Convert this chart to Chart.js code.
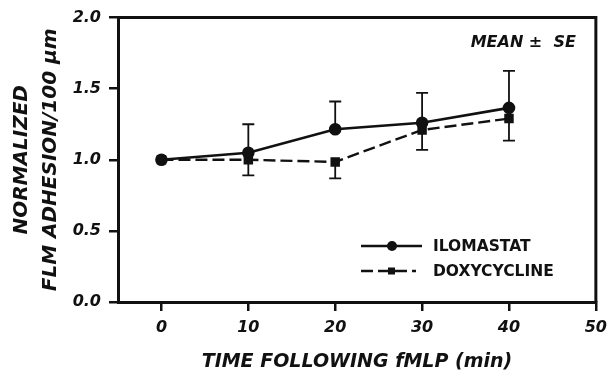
<!DOCTYPE html>
<html>
<head>
<meta charset="utf-8">
<script src="https://cdn.jsdelivr.net/npm/chart.js@4/dist/chart.umd.min.js"></script>
<style>
  html, body { margin: 0; padding: 0; background: #fff; }
  #wrap { width: 614px; height: 375px; position: relative; }
</style>
</head>
<body>
<div id="wrap"><canvas id="chart" width="614" height="375"></canvas></div>
<script>
// minutes after fMLP
const times = [0, 10, 20, 30, 40];
const xTicks = [0, 10, 20, 30, 40, 50];
const seriesNames = ['ILOMASTAT', 'DOXYCYCLINE'];

// normalized adhesion, mean and SE (ilomastat bar drawn up, doxycycline bar drawn down)
const ilomastatMean = [1.0, 1.05, 1.215, 1.26, 1.365];
const ilomastatSE = [0, 0.20, 0.195, 0.21, 0.26];
const doxyMean = [1.0, 1.0, 0.985, 1.21, 1.29];
const doxySE = [0, 0.11, 0.115, 0.14, 0.155];

const note = 'MEAN ±  SE';
const FONT = "'DejaVu Sans', 'Liberation Sans', Arial, sans-serif";

const toPoints = (ys) => ys.map((y, i) => ({ x: times[i], y }));

// error bars: ilomastat upper half, doxycycline lower half
const errorBars = {
  id: 'errorBars',
  beforeDatasetsDraw(chart) {
    const { ctx, scales: { x, y } } = chart;
    const sets = [
      { mean: ilomastatMean, se: ilomastatSE, dir: 1 },
      { mean: doxyMean, se: doxySE, dir: -1 },
    ];
    ctx.save();
    ctx.strokeStyle = '#111';
    ctx.lineWidth = 1.8;
    sets.forEach((s) => {
      s.mean.forEach((m, i) => {
        if (!s.se[i]) return;
        const px = x.getPixelForValue(times[i]);
        const p0 = y.getPixelForValue(m);
        const p1 = y.getPixelForValue(m + s.dir * s.se[i]);
        ctx.beginPath();
        ctx.moveTo(px, p0);
        ctx.lineTo(px, p1);
        ctx.moveTo(px - 6, p1);
        ctx.lineTo(px + 6, p1);
        ctx.stroke();
      });
    });
    ctx.restore();
  },
};

// closes the box on top and right, adds the legend and the note
const frameAndLegend = {
  id: 'frameAndLegend',
  afterDraw(chart) {
    const { ctx, chartArea: a } = chart;
    ctx.save();
    ctx.strokeStyle = '#111';
    ctx.lineWidth = 3;
    ctx.beginPath();
    ctx.moveTo(a.left, a.top);
    ctx.lineTo(a.right, a.top);
    ctx.lineTo(a.right, a.bottom);
    ctx.stroke();

    ctx.fillStyle = '#111';
    ctx.font = `italic bold 16px ${FONT}`;
    ctx.textAlign = 'right';
    ctx.textBaseline = 'middle';
    ctx.fillText(note, a.right - 20, a.top + 25);

    const rows = [246, 271];
    chart.data.datasets.forEach((ds, i) => {
      const yy = rows[i];
      ctx.lineWidth = ds.borderWidth;
      ctx.setLineDash(ds.borderDash || []);
      ctx.beginPath();
      ctx.moveTo(361, yy);
      ctx.lineTo(i === 0 ? 422 : 416, yy);
      ctx.stroke();
      ctx.setLineDash([]);
      ctx.beginPath();
      if (ds.pointStyle === 'rect') {
        ctx.rect(388, yy - 3.5, 7, 7);
      } else {
        ctx.arc(392, yy, 5, 0, Math.PI * 2);
      }
      ctx.fill();
      ctx.font = `bold 15.5px ${FONT}`;
      ctx.textAlign = 'left';
      ctx.fillText(ds.label, 433, yy + 1);
    });
    ctx.restore();
  },
};

new Chart(document.getElementById('chart'), {
  type: 'scatter',
  data: {
    datasets: [
      {
        label: seriesNames[0],
        data: toPoints(ilomastatMean),
        showLine: true,
        borderColor: '#111',
        backgroundColor: '#111',
        borderWidth: 2.6,
        pointStyle: 'circle',
        pointRadius: 5,
        pointHoverRadius: 5,
      },
      {
        label: seriesNames[1],
        data: toPoints(doxyMean),
        showLine: true,
        borderColor: '#111',
        backgroundColor: '#111',
        borderWidth: 2.4,
        borderDash: [12, 5],
        pointStyle: 'rect',
        pointRadius: 5,
        pointHoverRadius: 5,
      },
    ],
  },
  options: {
    responsive: false,
    animation: false,
    layout: { padding: { top: 14, right: 16, left: 0, bottom: 0 } },
    plugins: { legend: { display: false }, tooltip: { enabled: false } },
    scales: {
      x: {
        type: 'linear',
        min: -5,
        max: 50,
        afterBuildTicks: (s) => { s.ticks = xTicks.map((v) => ({ value: v })); },
        afterFit: (s) => { s.height = 73; },
        grid: { drawOnChartArea: false, drawTicks: true, tickLength: 9, color: '#111', lineWidth: 2.5 },
        border: { display: true, color: '#111', width: 3 },
        ticks: {
          color: '#111',
          padding: 7,
          maxRotation: 0,
          font: { family: FONT, size: 16, style: 'italic', weight: 'bold' },
        },
        title: {
          display: true,
          text: 'TIME FOLLOWING fMLP (min)',
          color: '#111',
          padding: { top: 0, bottom: 2 },
          font: { family: FONT, size: 19, style: 'italic', weight: 'bold' },
        },
      },
      y: {
        min: 0,
        max: 2,
        afterFit: (s) => { s.width = 118; },
        grid: { drawOnChartArea: false, drawTicks: true, tickLength: 9, color: '#111', lineWidth: 2.5 },
        border: { display: true, color: '#111', width: 3 },
        ticks: {
          stepSize: 0.5,
          color: '#111',
          padding: 8,
          callback: (v) => v.toFixed(1),
          font: { family: FONT, size: 16, style: 'italic', weight: 'bold' },
        },
        title: {
          display: true,
          text: ['NORMALIZED', 'FLM ADHESION/100 µm'],
          color: '#111',
          padding: { top: 7, bottom: 0 },
          font: { family: FONT, size: 20, style: 'italic', weight: 'bold', lineHeight: 1.45 },
        },
      },
    },
  },
  plugins: [errorBars, frameAndLegend],
});
</script>
</body>
</html>
